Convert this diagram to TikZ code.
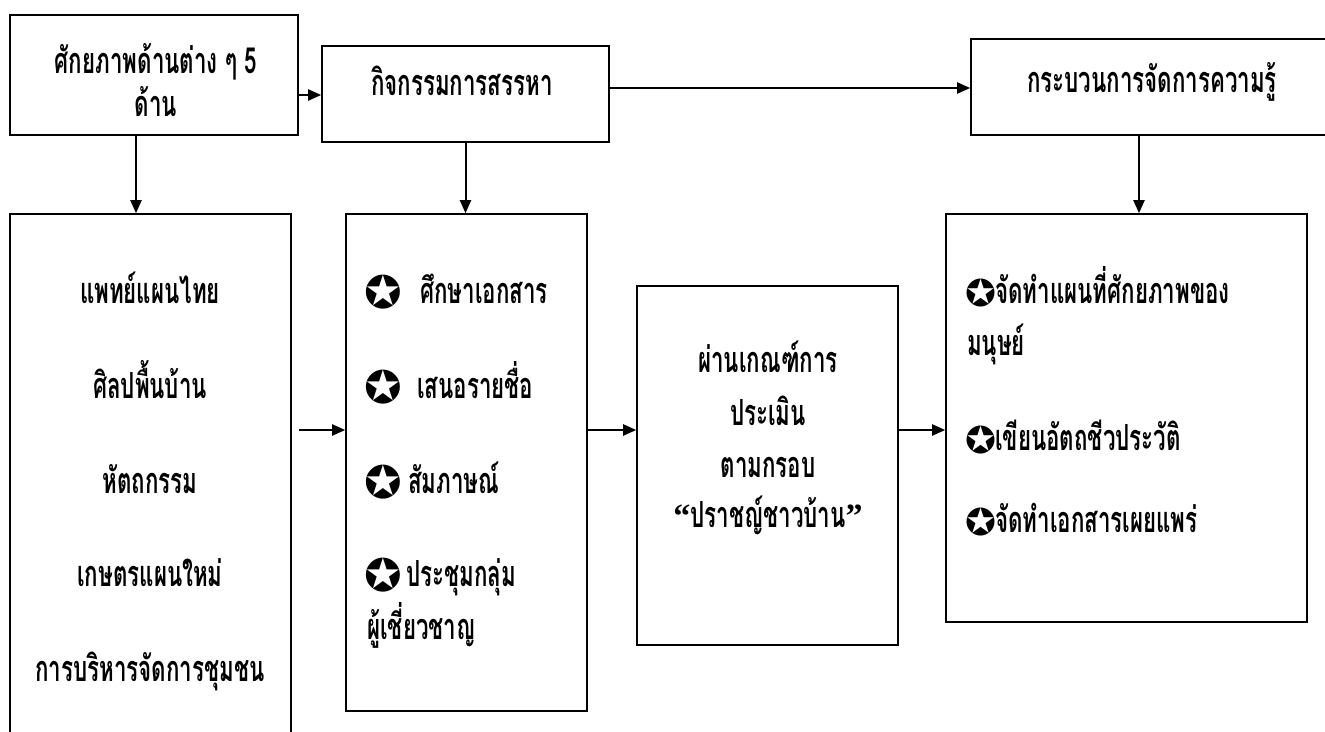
\documentclass[tikz,border=0pt]{standalone}
\usepackage{fontspec}
\usetikzlibrary{arrows.meta,calc}
\newfontfamily\thaif[Script=Thai,FakeStretch=0.62]{Loma}
\newfontfamily\symf{DejaVu Sans}
\newfontfamily\quotef{Liberation Serif}
\begin{document}
\begin{tikzpicture}[x=1pt,y=-1pt,
  box/.style={draw=black, line width=1.6pt, inner sep=0pt},
  txt/.style={font=\thaif\bfseries\fontsize{36}{40}\selectfont, inner sep=0pt, anchor=base},
  ltxt/.style={txt, anchor=base west},
  starE/.style={font=\symf\fontsize{45}{45}\selectfont, inner sep=0pt, anchor=center},
  starF/.style={font=\symf\fontsize{37}{37}\selectfont, inner sep=0pt, anchor=center},
  arr/.style={line width=2pt, -{Triangle[length=13pt,width=11pt]}}]
\clip (0,0) rectangle (1325,731);
\fill[white] (0,0) rectangle (1325,731);
% boxes
\node (A) [box, minimum width=288pt, minimum height=120pt] at (154,75) {};
\node (B) [box, minimum width=287pt, minimum height=96pt] at (465.5,94) {};
\node (C) [box, minimum width=380pt, minimum height=96pt] at (1161,87) {};
\node (D) [box, minimum width=281pt, minimum height=600pt] at (150.5,514) {};
\node (E) [box, minimum width=241pt, minimum height=497pt] at (466.5,462.5) {};
\node (G) [box, minimum width=261pt, minimum height=359pt] at (767.5,465.5) {};
\node (F) [box, minimum width=361pt, minimum height=408pt] at (1126.5,418) {};
% texts
\node (tA1) [txt] at (156,73) {ศักยภาพด้านต่าง ๆ 5};
\node (tA2) [txt] at (156,116) {ด้าน};
\node (tB) [txt] at (462,95) {กิจกรรมการสรรหา};
\node (tC) [txt] at (1152,92) {กระบวนการจัดการความรู้};
\node (tD1) [txt] at (150,303) {แพทย์แผนไทย};
\node (tD2) [txt] at (150,398) {ศิลปพื้นบ้าน};
\node (tD3) [txt] at (150,493) {หัตถกรรม};
\node (tD4) [txt] at (150,586) {เกษตรแผนใหม่};
\node (tD5) [txt] at (150,681) {การบริหารจัดการชุมชน};
\node (sE1) [starE] at (383,292) {✪};
\node (sE2) [starE] at (383,387) {✪};
\node (sE3) [starE] at (383,482) {✪};
\node (sE4) [starE] at (383,575) {✪};
\node (tE1) [ltxt] at (420,303) {ศึกษาเอกสาร};
\node (tE2) [ltxt] at (417,398) {เสนอรายชื่อ};
\node (tE3) [ltxt] at (408,493) {สัมภาษณ์};
\node (tE4) [ltxt] at (406,586) {ประชุมกลุ่ม};
\node (tE5) [ltxt] at (367,639) {ผู้เชี่ยวชาญ};
\node (tG1) [txt] at (768,372) {ผ่านเกณฑ์การ};
\node (tG2) [txt] at (768,425) {ประเมิน};
\node (tG3) [txt] at (768,477) {ตามกรอบ};
\node (tG4) [txt] at (768,527) {{\quotef\bfseries\fontsize{34}{34}\selectfont “}ปราชญ์ชาวบ้าน{\quotef\bfseries\fontsize{34}{34}\selectfont ”}};
\node (sF1) [starF] at (981,293) {✪};
\node (sF3) [starF] at (981,440) {✪};
\node (sF4) [starF] at (981,522) {✪};
\node (tF1) [ltxt] at (995,303) {จัดทำแผนที่ศักยภาพของ};
\node (tF2) [ltxt] at (967,355) {มนุษย์};
\node (tF3) [ltxt] at (995,450) {เขียนอัตถชีวประวัติ};
\node (tF4) [ltxt] at (995,532) {จัดทำเอกสารเผยแพร่};
% helper coordinates
\coordinate (r1a) at (0,95);
\coordinate (r1b) at (0,88);
\coordinate (r2) at (0,430);
\coordinate (cA) at (136,0);
\coordinate (cC) at (1139,0);
% connectors
\draw[arr] (A.east |- r1a) -- (B.west |- r1a);
\draw[arr] (B.east |- r1b) -- (C.west |- r1b);
\draw[arr] (A.south -| cA) -- (D.north -| cA);
\draw[arr] (B.south) -- (B.south |- E.north);
\draw[arr] (C.south -| cC) -- (F.north -| cC);
\draw[arr] ($(D.east |- r2)+(7,0)$) -- (E.west |- r2);
\draw[arr] (E.east |- r2) -- (G.west |- r2);
\draw[arr] (G.east |- r2) -- (F.west |- r2);
\end{tikzpicture}
\end{document}
